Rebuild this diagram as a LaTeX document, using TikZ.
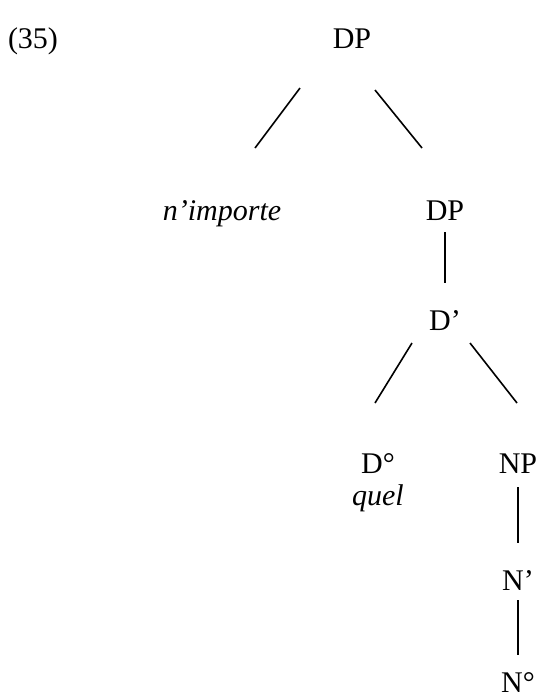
\documentclass[tikz,border=0pt]{standalone}
\usepackage{fontspec}
\setmainfont{Liberation Serif}
\usetikzlibrary{positioning}

\tikzset{
  lbl/.style={inner sep=0pt, anchor=base, font=\fontsize{15}{18}\selectfont},
  branch/.style={line width=0.8pt}
}

\begin{document}
\begin{tikzpicture}[x=0.5pt, y=-0.5pt]
	\useasboundingbox (0,0) rectangle (545,697);
	
	% Etiquetas del árbol
	\node[lbl] (ex) at (33,48) {(35)};
	\node[lbl] (dp1) at (352,48) {DP};
	\node[lbl] (ni) at (222,220) {\itshape n’importe};
	\node[lbl] (dp2) at (445,220) {DP};
	\node[lbl] (dbar) at (445,330) {D’};
	\node[lbl] (d0) at (378,473) {D°};
	\node[lbl] (quel) at (378,505) {\itshape quel};
	\node[lbl] (np) at (518,473) {NP};
	\node[lbl] (nbar) at (518,590) {N’};
	\node[lbl] (n0) at (518,692) {N°};
	
	% Ramas
	\draw[branch] ([shift={(-52,40)}]dp1.base) -- ([shift={(33,-72)}]ni.base);
	\draw[branch] ([shift={(23,42)}]dp1.base) -- ([shift={(-23,-72)}]dp2.base);
	\draw[branch] ([shift={(0,12)}]dp2.base) -- ([shift={(0,-47)}]dbar.base);
	\draw[branch] ([shift={(-33,13)}]dbar.base) -- ([shift={(-3,-70)}]d0.base);
	\draw[branch] ([shift={(25,13)}]dbar.base) -- ([shift={(-1,-70)}]np.base);
	\draw[branch] ([shift={(0,14)}]np.base) -- ([shift={(0,-47)}]nbar.base);
	\draw[branch] ([shift={(0,10)}]nbar.base) -- ([shift={(0,-37)}]n0.base);
\end{tikzpicture}
\end{document}
